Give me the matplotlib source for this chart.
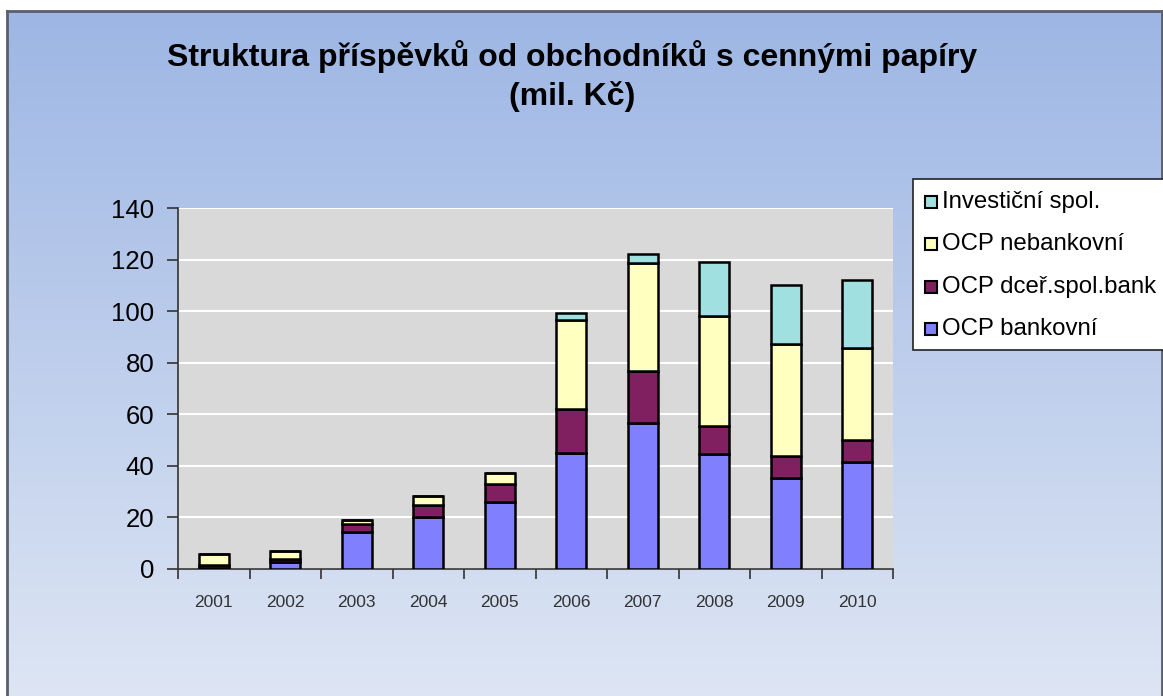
import numpy as np
import matplotlib
matplotlib.use("Agg")
import matplotlib.pyplot as plt
from matplotlib.patches import Rectangle

years = ["2001", "2002", "2003", "2004", "2005", "2006", "2007", "2008", "2009", "2010"]
ocp_bankovni = [0.3, 2.6, 14.5, 20.3, 26.1, 45.1, 56.5, 44.5, 35.4, 41.6]
ocp_dcer = [1.4, 1.3, 2.8, 4.5, 6.7, 16.8, 20.4, 11.1, 8.4, 8.4]
ocp_nebankovni = [4.0, 3.2, 1.7, 3.6, 4.6, 34.6, 41.6, 42.6, 43.3, 35.8]
investicni = [0.0, 0.0, 0.0, 0.0, 0.0, 2.9, 3.5, 20.7, 23.0, 26.3]
series_names = ["OCP bankovní", "OCP dceř.spol.bank", "OCP nebankovní", "Investiční spol."]
series_colors = ["#8080ff", "#802060", "#ffffc0", "#a0e0e0"]
yticks = [0, 20, 40, 60, 80, 100, 120, 140]

plt.rcParams['font.family'] = ['Liberation Sans', 'DejaVu Sans']

W, H = 1163, 696
fig = plt.figure(figsize=(W / 100, H / 100), dpi=100)
fig.patch.set_facecolor("white")

# background frame with vertical gradient
bg = fig.add_axes([7 / W, -0.01, (W - 8) / W, (H - 11) / H + 0.01], zorder=-5)
grad = np.linspace(0, 1, 256).reshape(-1, 1)
top = np.array([0x9d, 0xb6, 0xe4]) / 255
bot = np.array([0xde, 0xe6, 0xf4]) / 255
img = top[None, None, :] * (1 - grad[:, :, None]) + bot[None, None, :] * grad[:, :, None]
bg.imshow(img, aspect="auto", extent=[0, 1, 0, 1], origin="upper")
bg.set_xticks([])
bg.set_yticks([])
for s in bg.spines.values():
    s.set_color("#5a5f6a")
    s.set_linewidth(2)
bg.spines["bottom"].set_visible(False)

# plot area
x0, x1 = 178, 893
y0, y1 = 569, 208
ax = fig.add_axes([x0 / W, (H - y0) / H, (x1 - x0) / W, (y0 - y1) / H])
ax.set_facecolor("#d9d9d9")
x = np.arange(len(years))
bottom = np.zeros(len(years))
for vals, name, col in zip([ocp_bankovni, ocp_dcer, ocp_nebankovni, investicni], series_names, series_colors):
    v = np.array(vals)
    ax.bar(x, v, width=0.42, bottom=bottom, color=col, edgecolor="black", linewidth=1.8, label=name, zorder=3)
    bottom = bottom + v

ax.set_xlim(-0.5, len(years) - 0.5)
ax.set_ylim(0, 140)
ax.set_yticks(yticks)
ax.set_yticklabels([str(t) for t in yticks], fontsize=18.5)
ax.yaxis.grid(True, color="white", linewidth=1.5, zorder=0)
ax.set_axisbelow(True)
ax.set_xticks(x)
ax.set_xticklabels(years, fontsize=12.5, color="#333333")
ax.tick_params(axis="x", length=0, pad=19)
ax.set_xticks(np.arange(len(years) + 1) - 0.5, minor=True)
ax.tick_params(axis="x", which="minor", length=7, width=1.2, color="#333333", direction="out")
ax.tick_params(axis="y", length=8, width=1.2, color="#333333", direction="out", pad=9)
for side in ["top", "right"]:
    ax.spines[side].set_visible(False)
for side in ["left", "bottom"]:
    ax.spines[side].set_color("#333333")
    ax.spines[side].set_linewidth(1.2)

# title
fig.text(572 / W, 1 - 57 / H, "Struktura příspěvků od obchodníků s cennými papíry",
         ha="center", va="center", fontsize=23, fontweight="bold")
fig.text(572 / W, 1 - 96 / H, "(mil. Kč)", ha="center", va="center", fontsize=23, fontweight="bold")

# legend box
lx0, ly0, lx1, ly1 = 913, 179, 1175, 350
fig.patches.append(Rectangle((lx0 / W, 1 - ly1 / H), (lx1 - lx0) / W, (ly1 - ly0) / H,
                             transform=fig.transFigure, facecolor="white", edgecolor="#222222",
                             linewidth=1.2, zorder=5))
entries = list(zip(series_names, series_colors))[::-1]
ys = [202, 244, 287, 329]
for (name, col), yy in zip(entries, ys):
    fig.patches.append(Rectangle((925 / W, 1 - (yy + 6) / H), 12 / W, 12 / H, transform=fig.transFigure,
                                 facecolor=col, edgecolor="black", linewidth=1.5, zorder=6))
    fig.text(942 / W, 1 - yy / H, name, ha="left", va="center", fontsize=17.3, zorder=7)

fig.savefig("out.png", dpi=100)
